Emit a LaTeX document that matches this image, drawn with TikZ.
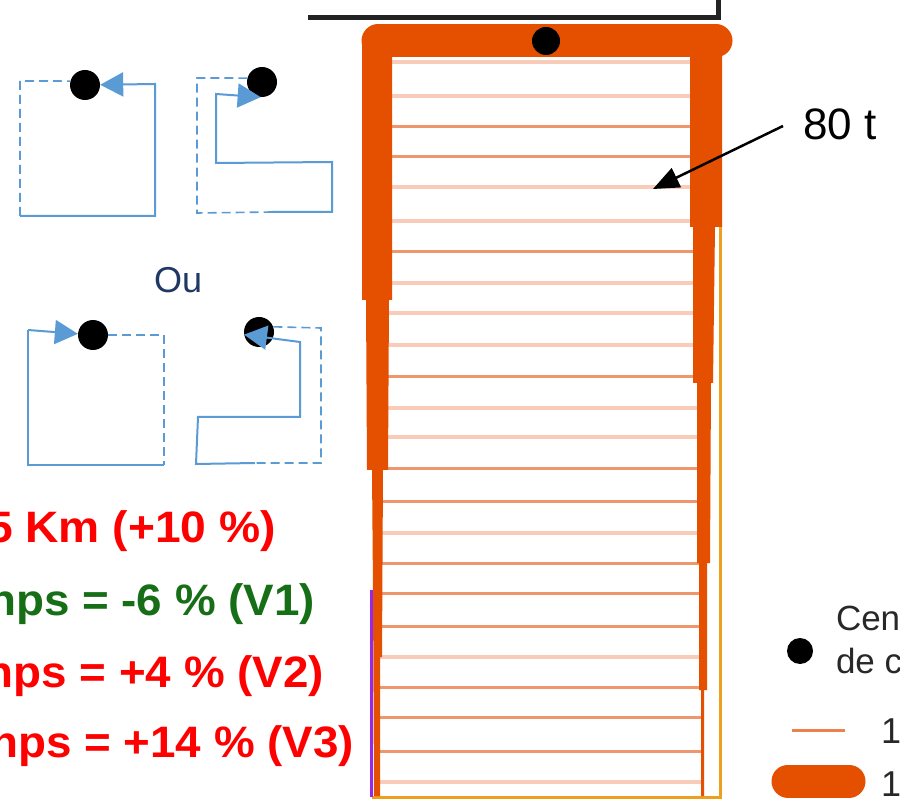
\documentclass[tikz,border=0pt]{standalone}
\usepackage{fontspec}
\setmainfont{Liberation Sans}
\usetikzlibrary{arrows.meta}
\definecolor{orangeT}{RGB}{228,80,0}
\definecolor{lightL}{RGB}{248,204,184}
\definecolor{darkL}{RGB}{240,150,110}
\definecolor{yelL}{RGB}{236,160,30}
\definecolor{purp}{RGB}{150,40,235}
\definecolor{bl}{RGB}{91,155,213}
\definecolor{navy}{RGB}{31,56,100}
\definecolor{redT}{RGB}{255,0,0}
\definecolor{greenT}{RGB}{22,110,22}
\definecolor{legT}{RGB}{40,40,40}
\definecolor{barK}{RGB}{35,35,35}
\tikzset{
  solidpath/.style={draw=bl,line width=2pt},
  dashpath/.style={draw=bl,line width=1.6pt,dash pattern=on 9pt off 5pt},
  bluearrow/.style={-{Triangle[length=23pt,width=24pt]}},
  cgdot/.style={circle,fill=black,inner sep=0pt,minimum size=#1},
  lightline/.style={draw=lightL,line width=4pt},
  darkline/.style={draw=darkL,line width=3pt},
  txt/.style={inner sep=0pt,outer sep=0pt},
}
\begin{document}
\begin{tikzpicture}[x=1pt,y=-1pt]
\useasboundingbox (0,0) rectangle (900,799);
\fill[white] (0,0) rectangle (900,799);

% ---------- blue route shapes ----------
\node[cgdot=30pt] (d1) at (85,85) {};
\node[cgdot=30pt] (d2) at (262,82) {};
\node[cgdot=30pt] (d3) at (93,335) {};
\node[cgdot=30pt] (d4) at (259,332) {};

% shape 1
\draw[dashpath] (20,216) -- (20,81) -- (d1.165);
\draw[solidpath,bluearrow] (20,216) -- (155,216) -- (155,84) -- (d1);
% shape 2
\draw[dashpath] (d2.165) -- (197,78) -- (197,213) -- (272,212);
\draw[solidpath,bluearrow] (272,212) -- (332,212) -- (332,162) -- (216,163) -- (216,94) -- (d2.-95);
% shape 3
\draw[dashpath] (d3.east) -- (164,335) -- (164,465);
\draw[solidpath] (164,465) -- (28,465) -- (28,330);
\draw[solidpath,bluearrow] (28,330) -- (d3);
% shape 4
\draw[dashpath] (d4.20) -- (321,328) -- (321,463) -- (255,463);
\draw[solidpath,bluearrow] (255,463) -- (196,464) -- (198,417) -- (300,417) -- (300,342) -- (d4.-170);

\node[txt,anchor=base west,text=navy,font=\fontsize{36}{40}\selectfont] (ou) at (154,293) {Ou};

% ---------- texts on the left ----------
\node[txt,anchor=base east,text=redT,font=\bfseries\fontsize{44}{48}\selectfont] (l1) at (276,542) {\scalebox{1.05}[1]{5 Km (+10 \%)}};
\node[txt,anchor=base east,text=greenT,font=\bfseries\fontsize{44}{48}\selectfont] (l2) at (315,615) {\scalebox{1.04}[1]{nps = -6 \% (V1)}};
\node[txt,anchor=base east,text=redT,font=\bfseries\fontsize{44}{48}\selectfont] (l3) at (324,687) {\scalebox{1.04}[1]{nps = +4 \% (V2)}};
\node[txt,anchor=base east,text=redT,font=\bfseries\fontsize{44}{48}\selectfont] (l4) at (354,757) {\scalebox{1.04}[1]{nps = +14 \% (V3)}};

% ---------- black top frame ----------
\draw[barK,line width=5pt] (308,18) -- (718,18) -- (718,-5);

% ---------- section lines ----------
\foreach \y in {62,96,187,221,283,313,345,408,437,533,657,782}
  \draw[lightline] (375,\y) -- (703,\y);
\foreach \y in {127,157,252,377,469,501,563,593,626,687,717,751}
  \draw[darkline] (375,\y) -- (703,\y);

% yellow outline
\draw[yelL,line width=3pt] (720,57) -- (720,797) -- (372,797);
% purple edge
\draw[purp,line width=3pt] (371.5,590) -- (371.5,797);

% left wall
\fill[orangeT] (362,41) -- (392,41) -- (392,300) -- (389,300) -- (388,470) -- (383,470)
  -- (382,657) -- (380,657) -- (380,796) -- (374,796) -- (373,590) -- (372,470)
  -- (367,470) -- (366,300) -- (362,300) -- cycle;
% right wall
\fill[orangeT] (690,41) -- (722,41) -- (722,227) -- (715,227) -- (713,383) -- (711,383)
  -- (710,563) -- (707,563) -- (707,690) -- (704,690) -- (704,796) -- (701,796)
  -- (701,690) -- (699,690) -- (699,563) -- (697,563) -- (697,383) -- (693,383)
  -- (693,227) -- (690,227) -- cycle;
% top bar
\draw[orangeT,line width=33pt,line cap=round] (378,41) -- (716,41);

\node[cgdot=28pt] (cg) at (546,41) {};

% ---------- 80 t label ----------
\node[txt,anchor=base west,font=\fontsize{44}{48}\selectfont] (t80) at (803,140) {80 t};
\coordinate (a80) at (783,126);
\coordinate (a80tip) at (653,189);
\draw[black,line width=2.5pt,-{Triangle[length=26pt,width=21pt]}] (a80) -- (a80tip);

% ---------- legend ----------
\node[cgdot=26pt] (lgdot) at (800,651) {};
\node[txt,anchor=base west,text=legT,font=\fontsize{35}{38}\selectfont] (lg1) at (836,630) {Cen};
\node[txt,anchor=base west,text=legT,font=\fontsize{35}{38}\selectfont] (lg2) at (836,673) {de c};
\coordinate (th1) at (792,730);
\coordinate (th2) at (845,730);
\draw[draw=darkL!70!orangeT,line width=3pt] (th1) -- (th2);
\node[txt,anchor=base west,text=legT,font=\fontsize{36}{40}\selectfont] (lg3) at (881,743) {1};
\coordinate (tk1) at (788,781);
\coordinate (tk2) at (849,781);
\draw[orangeT,line width=33pt,line cap=round] (tk1) -- (tk2);
\node[txt,anchor=base west,text=legT,font=\fontsize{36}{40}\selectfont] (lg4) at (881,796) {1};
\end{tikzpicture}
\end{document}
